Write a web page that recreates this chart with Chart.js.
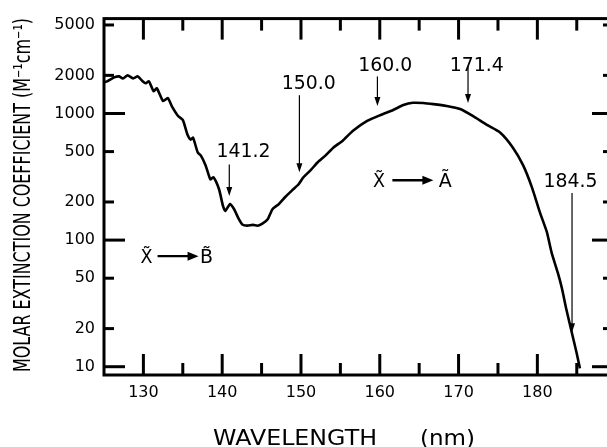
<!DOCTYPE html>
<html><head><meta charset="utf-8">
<script src="https://cdn.jsdelivr.net/npm/chart.js@4/dist/chart.umd.min.js"></script>
<style>html,body{margin:0;padding:0;background:#fff;overflow:hidden;width:607px;height:447px}
canvas{display:block}</style></head>
<body><canvas id="c" width="620" height="447" style="width:620px;height:447px"></canvas>
<script>
// Wavelength (nm) and molar extinction coefficient (M^-1 cm^-1)
const wavelength = [125.0,125.4,126.3,126.9,127.4,128.0,128.7,129.3,129.9,130.3,130.7,131.3,131.7,132.5,133.1,133.6,134.4,135.0,135.6,136.0,136.3,136.9,137.3,137.9,138.5,138.9,139.6,140.1,140.4,141.0,141.5,142.1,142.6,143.2,143.9,144.5,145.1,145.8,146.4,147.2,148.0,148.9,149.7,150.3,151.2,152.1,153.1,154.1,155.3,156.6,158.4,160.1,161.7,163.0,164.2,165.5,166.8,168.5,170.2,171.8,173.6,175.3,176.9,178.2,179.3,180.3,181.2,181.8,182.6,183.1,183.7,184.4,185.0,185.4];
const epsilon = [1763,1795,1928,1963,1893,2000,1893,1963,1795,1731,1795,1500,1582,1253,1322,1145,956,889,679,621,644,491,465,389,302,313,252,186,170,193,176,147,132,130,132,130,135,147,176,193,219,248,276,313,355,410,465,537,610,730,873,973,1065,1165,1215,1210,1186,1145,1084,956,812,705,537,389,262,167,116,80,55,42,28,18.3,12.7,9.7];

const xMajorTicks = [130,140,150,160,170,180];
const xMinorTicks = [135,145,155,165,175,185];
const yMajorTicks = [10,100,1000];
const yMinorTicks = [20,50,200,500,2000,5000];
const yTickLabels = [10,20,50,100,200,500,1000,2000,5000];

const peakLabels = ['141.2','150.0','160.0','171.4','184.5'];
const transitionFrom = ['X\u0303','X\u0303'];
const transitionTo = ['B\u0303','A\u0303'];

// annotation placement (data units)
const peakGeom = [
  {ax:140.9, tx:142.7, ty:518,  y1:396,  y2:223},
  {ax:149.8, tx:151.0, ty:1795, y1:1394, y2:343},
  {ax:159.7, tx:160.7, ty:2483, y1:1961, y2:1144},
  {ax:171.2, tx:172.3, ty:2483, y1:2345, y2:1208},
  {ax:184.4, tx:184.2, ty:302,  y1:236,  y2:18.7}
];
const transGeom = [
  {xf:130.4, a1:131.8, a2:137.0, xt:138.0, y:74.7},
  {xf:159.9, a1:161.6, a2:166.8, xt:168.3, y:297}
];

const FONT = '"DejaVu Sans", sans-serif';

function fitText(ctx, text, cx, cy, size, width, rot) {
  ctx.save();
  ctx.font = size + 'px ' + FONT;
  const w = ctx.measureText(text).width;
  ctx.translate(cx, cy);
  if (rot) ctx.rotate(rot);
  ctx.scale(width / w, 1);
  ctx.textAlign = 'center';
  ctx.textBaseline = 'alphabetic';
  ctx.fillStyle = '#000';
  ctx.fillText(text, 0, size * 0.365);
  ctx.restore();
}
function arrow(ctx, x1, y1, x2, y2, lw, hl, hw) {
  const ang = Math.atan2(y2 - y1, x2 - x1);
  ctx.save();
  ctx.strokeStyle = '#000'; ctx.fillStyle = '#000'; ctx.lineWidth = lw;
  ctx.beginPath();
  ctx.moveTo(x1, y1);
  ctx.lineTo(x2 - Math.cos(ang) * hl * 0.8, y2 - Math.sin(ang) * hl * 0.8);
  ctx.stroke();
  ctx.translate(x2, y2); ctx.rotate(ang);
  ctx.beginPath();
  ctx.moveTo(0, 0); ctx.lineTo(-hl, -hw); ctx.lineTo(-hl, hw); ctx.closePath();
  ctx.fill();
  ctx.restore();
}

const decor = {
  id: 'decor',
  afterDatasetsDraw(chart) {
    const ctx = chart.ctx;
    const xs = chart.scales.x, ys = chart.scales.y;
    const a = chart.chartArea;
    ctx.save();
    ctx.strokeStyle = '#000';
    ctx.lineWidth = 3;
    ctx.strokeRect(a.left, a.top, a.right - a.left, a.bottom - a.top);
    const line = (x1, y1, x2, y2) => { ctx.beginPath(); ctx.moveTo(x1, y1); ctx.lineTo(x2, y2); ctx.stroke(); };
    const MAJ = 21, MIN = 12;
    xMajorTicks.forEach(v => { const p = xs.getPixelForValue(v); line(p, a.bottom, p, a.bottom - MAJ); line(p, a.top, p, a.top + MAJ); });
    xMinorTicks.forEach(v => { const p = xs.getPixelForValue(v); line(p, a.bottom, p, a.bottom - MIN); line(p, a.top, p, a.top + MIN); });
    yMajorTicks.forEach(v => { const p = ys.getPixelForValue(v); line(a.left, p, a.left + MAJ, p); line(a.right, p, a.right - MAJ, p); });
    yMinorTicks.forEach(v => { const p = ys.getPixelForValue(v); line(a.left, p, a.left + 10, p); line(a.right, p, a.right - 10, p); });
    ctx.restore();

    peakLabels.forEach((t, i) => {
      const g = peakGeom[i];
      fitText(ctx, t, xs.getPixelForValue(g.tx), ys.getPixelForValue(g.ty), 20, 54);
      const ax = xs.getPixelForValue(g.ax);
      arrow(ctx, ax, ys.getPixelForValue(g.y1), ax, ys.getPixelForValue(g.y2), 1.2, 9, 3);
    });
    transitionFrom.forEach((t, i) => {
      const g = transGeom[i];
      const y = ys.getPixelForValue(g.y);
      fitText(ctx, t, xs.getPixelForValue(g.xf), y, 19, 12);
      fitText(ctx, transitionTo[i], xs.getPixelForValue(g.xt), y, 19, 13);
      arrow(ctx, xs.getPixelForValue(g.a1), y, xs.getPixelForValue(g.a2), y, 2.4, 11, 4.5);
    });
    fitText(ctx, 'WAVELENGTH', 295, 437, 21, 164);
    fitText(ctx, '(nm)', 447.5, 437, 21, 55);
    fitText(ctx, 'MOLAR EXTINCTION COEFFICIENT (M\u207B\u00B9cm\u207B\u00B9)', 22, 195, 23, 354, -Math.PI / 2);
  }
};

new Chart(document.getElementById('c'), {
  type: 'line',
  data: {
    datasets: [{
      data: wavelength.map((x, i) => ({ x: x, y: epsilon[i] })),
      borderColor: '#000', borderWidth: 2.6, pointRadius: 0, fill: false,
      tension: 0.2
    }]
  },
  options: {
    responsive: false, animation: false, devicePixelRatio: 1,
    layout: { padding: { top: 15, right: 7, left: 0, bottom: 0 } },
    plugins: { legend: { display: false }, tooltip: { enabled: false } },
    scales: {
      x: {
        type: 'linear', min: 125, max: 189.6,
        grid: { display: false, drawTicks: false }, border: { display: false },
        afterBuildTicks: s => { s.ticks = xMajorTicks.map(v => ({ value: v })); },
        afterFit: s => { s.height = 72; },
        ticks: { color: '#000', font: { family: FONT, size: 16 }, padding: 8, maxRotation: 0, autoSkip: false, callback: v => String(v) }
      },
      y: {
        type: 'logarithmic', min: 8.6, max: 5615,
        grid: { display: false, drawTicks: false }, border: { display: false },
        afterBuildTicks: s => { s.ticks = yTickLabels.map(v => ({ value: v })); },
        afterFit: s => { s.width = 104; },
        ticks: { color: '#000', font: { family: FONT, size: 16 }, padding: 9, autoSkip: false, callback: v => String(v) }
      }
    }
  },
  plugins: [decor]
});
</script>
</body></html>
